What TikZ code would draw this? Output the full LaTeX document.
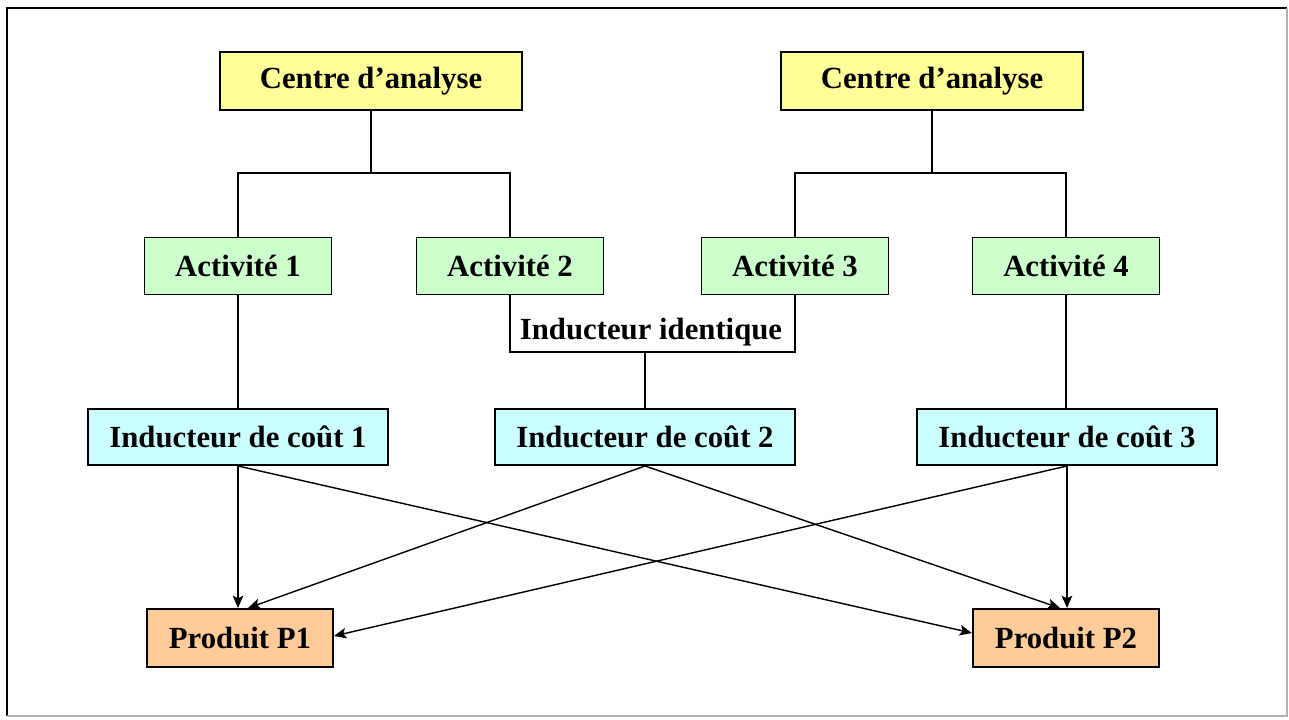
\documentclass[tikz,border=0pt]{standalone}
\usepackage{fontspec}
\setmainfont{Liberation Serif}
\usetikzlibrary{arrows.meta}

\definecolor{jaune}{HTML}{FFFF99}
\definecolor{vert}{HTML}{CCFFCC}
\definecolor{cyan}{HTML}{CCFFFF}
\definecolor{orange}{HTML}{FFCC99}

\tikzset{
	boite/.style={draw, line width=1.1pt, inner sep=0pt, font=\fontsize{17.5}{20}\selectfont\bfseries},
	centre/.style={boite, fill=jaune, minimum width=60.4mm, minimum height=11.6mm},
	activite/.style={boite, fill=vert, minimum width=37.4mm, minimum height=11.4mm},
	inducteur/.style={boite, fill=cyan, minimum width=60mm, minimum height=11.2mm},
	produit/.style={boite, fill=orange, minimum width=37.2mm, minimum height=11.6mm},
	trait/.style={line width=0.8pt},
	fleche/.style={trait, -{Stealth[length=7pt,width=6pt,inset=1.5pt]}}
}

\begin{document}
\begin{tikzpicture}[x=0.2mm, y=-0.2mm]
		\useasboundingbox (0,0) rectangle (1289,719);
		\draw[line width=1.2pt] (7,716) -- (7,8) -- (1287,8);
		\draw[gray!60, line width=1.2pt] (1287,8) -- (1287,716) -- (7,716);

		% centres d'analyse
		\node[centre] (c1) at (371,81) {Centre d’analyse};
		\node[centre] (c2) at (932,81) {Centre d’analyse};

		% activites
		\node[activite] (a1) at (238,266) {Activité 1};
		\node[activite] (a2) at (510,266) {Activité 2};
		\node[activite] (a3) at (795,266) {Activité 3};
		\node[activite] (a4) at (1066,266) {Activité 4};

		% inducteurs
		\node[inducteur] (i1) at (238,437) {Inducteur de coût 1};
		\node[inducteur] (i2) at (645,437) {Inducteur de coût 2};
		\node[inducteur] (i3) at (1067,437) {Inducteur de coût 3};

		% produits
		\node[produit] (p1) at (240,638) {Produit P1};
		\node[produit] (p2) at (1066,638) {Produit P2};

		\node[font=\fontsize{17.5}{20}\selectfont\bfseries] (ident) at (651,332) {Inducteur identique};

		\coordinate (j1) at (371,173);
		\coordinate (j2) at (932,173);
		\coordinate (j3) at (645,352);

		\draw[trait] (c1) -- (j1);
		\draw[trait] (a1.north) |- (j1) -| (a2.north);
		\draw[trait] (c2) -- (j2);
		\draw[trait] (a3.north) |- (j2) -| (a4.north);

		\draw[trait] (a1) -- (i1);
		\draw[trait] (a2.south) |- (j3) -| (a3.south);
		\draw[trait] (j3) -- (i2.north);
		\draw[trait] (a4.south) -- (a4.south |- i3.north);

		\draw[fleche] (i1.south) -- ([xshift=-0.4mm]p1.north);
		\draw[fleche] (i1.south) -- ([yshift=1mm]p2.west);
		\draw[fleche] (i2.south) -- ([xshift=1.6mm]p1.north);
		\draw[fleche] (i2.south) -- ([xshift=-1.2mm]p2.north);
		\draw[fleche] (i3.south) -- ([yshift=0.4mm]p1.east);
		\draw[fleche] (i3.south) -- (i3.south |- p2.north);
	\end{tikzpicture}
\end{document}
